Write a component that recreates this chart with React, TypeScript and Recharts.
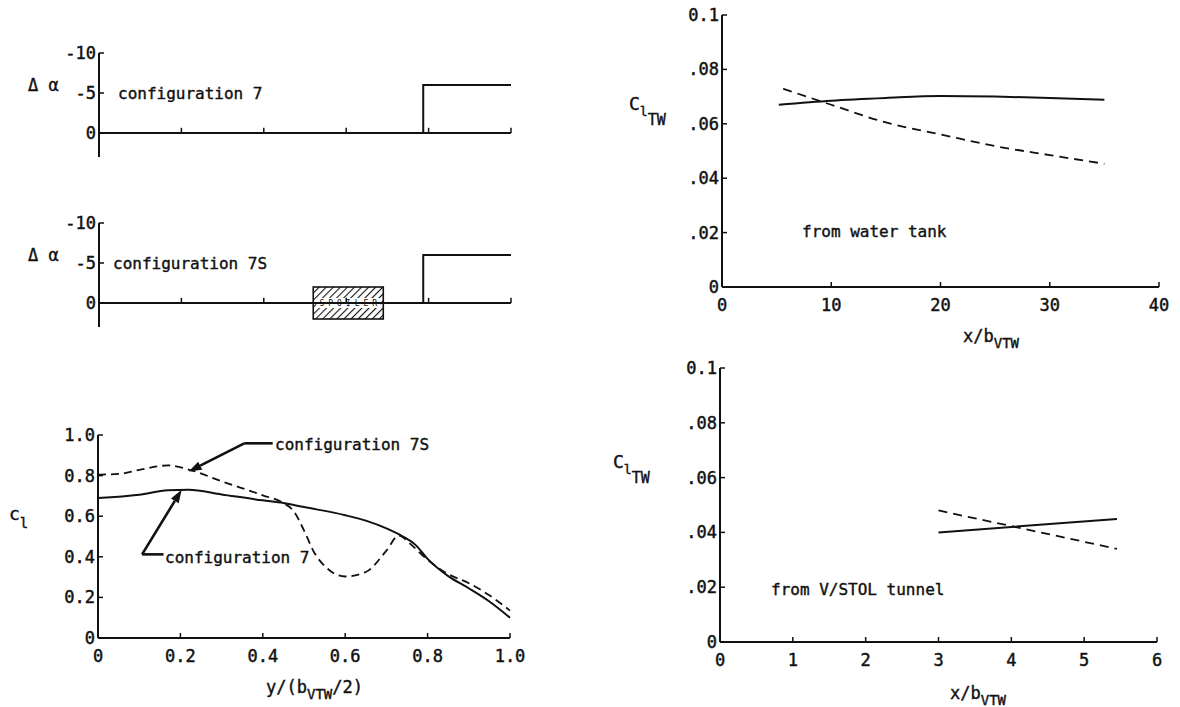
import React from 'react';
import { LineChart, Line, XAxis, YAxis, ReferenceLine, ReferenceArea } from 'recharts';

const FONT = '"DejaVu Sans Mono", "Liberation Mono", monospace';
const INK = '#111';

// ---------- Δα distributions (upper-left panels) ----------
const spanStations = [0, 0.787, 0.787, 1.0];
const dAlphaConfig7 = [0, 0, -6, -6];
const dAlphaConfig7S = [0, 0, -6, -6];
const dAlphaTicks = [-10, -5, 0];
const dAlphaDomain = [-10, 3];
const spanTicks = [0.2, 0.4, 0.6, 0.8, 1.0];
const spoilerSpan = [0.52, 0.69];
const spoilerDAlpha = [-2, 2];

// ---------- section lift c_l (lower-left panel) ----------
const clConfig7X = [0, 0.1, 0.17, 0.22, 0.3, 0.4, 0.45, 0.5, 0.6, 0.65, 0.7, 0.74, 0.77, 0.8, 0.85, 0.9, 0.95, 1.0];
const clConfig7 = [0.69, 0.706, 0.728, 0.73, 0.707, 0.678, 0.665, 0.645, 0.605, 0.578, 0.54, 0.5, 0.46, 0.39, 0.305, 0.245, 0.18, 0.1];
const clConfig7SX = [0, 0.05, 0.1, 0.17, 0.22, 0.3, 0.4, 0.45, 0.475, 0.5, 0.525, 0.55, 0.6, 0.65, 0.7, 0.73, 0.76, 0.8, 0.85, 0.9, 0.95, 1.0];
const clConfig7S = [0.805, 0.808, 0.828, 0.85, 0.83, 0.772, 0.703, 0.665, 0.625, 0.53, 0.42, 0.355, 0.303, 0.325, 0.43, 0.505, 0.46, 0.385, 0.315, 0.27, 0.21, 0.135];
const clTicks = [0, 0.2, 0.4, 0.6, 0.8, 1.0];
const spanAxisTicks = [0, 0.2, 0.4, 0.6, 0.8, 1.0];
const arrow7SX = [0.424, 0.355, 0.22];
const arrow7SY = [0.959, 0.959, 0.82];
const arrow7X = [0.159, 0.107, 0.203];
const arrow7Y = [0.412, 0.412, 0.73];

// ---------- C_l_TW from water tank (upper-right) ----------
const tankSolidX = [5.2, 10, 15, 20, 25, 30, 35];
const tankSolid = [0.067, 0.0685, 0.0695, 0.0702, 0.07, 0.0695, 0.0688];
const tankDashedX = [5.6, 10, 15, 20, 25, 30, 35];
const tankDashed = [0.0729, 0.067, 0.0605, 0.0561, 0.0518, 0.0485, 0.0453];
const tankXTicks = [0, 10, 20, 30, 40];
const cTicks = [0, 0.02, 0.04, 0.06, 0.08, 0.1];

// ---------- C_l_TW from V/STOL tunnel (lower-right) ----------
const tunnelSolidX = [3, 5.45];
const tunnelSolid = [0.04, 0.0449];
const tunnelDashedX = [3, 5.45];
const tunnelDashed = [0.048, 0.034];
const tunnelXTicks = [0, 1, 2, 3, 4, 5, 6];

const pts = (xs: number[], ys: number[]) => xs.map((x, i) => ({ x, y: ys[i] }));

type Rect = { x0: number; y0: number; x1: number; y1: number };
const PAD = { l: 60, t: 10, r: 20, b: 30 };

const P1: Rect = { x0: 99, y0: 53, x1: 511, y1: 157 };
const P2: Rect = { x0: 99, y0: 223, x1: 511, y1: 327 };
const P3: Rect = { x0: 98, y0: 435, x1: 510, y1: 638 };
const P4: Rect = { x0: 722, y0: 15, x1: 1159, y1: 287 };
const P5: Rect = { x0: 720, y0: 368, x1: 1157, y1: 642 };

function frame(p: Rect, showX: boolean) {
  return {
    pos: { position: 'absolute' as const, left: p.x0 - PAD.l, top: p.y0 - PAD.t },
    width: p.x1 - p.x0 + PAD.l + PAD.r,
    height: p.y1 - p.y0 + PAD.t + PAD.b,
    margin: { top: PAD.t, right: PAD.r, left: 0, bottom: showX ? 0 : PAD.b },
  };
}

const txt = { fontFamily: FONT, fontSize: 17, fill: INK, stroke: INK, strokeWidth: 0.45 };

const yTick = (fmt: (v: number) => string) => (props: any) => {
  const { x, y, payload } = props;
  return (
    <g>
      <line x1={x} x2={x + 5} y1={y} y2={y} stroke={INK} strokeWidth={1.5} />
      <text x={x - 3} y={y} textAnchor="end" dominantBaseline="central" style={txt}>
        {fmt(payload.value)}
      </text>
    </g>
  );
};

const xTick = (fmt: (v: number) => string) => (props: any) => {
  const { x, y, payload } = props;
  return (
    <g>
      <line x1={x} x2={x} y1={y} y2={y - 5} stroke={INK} strokeWidth={1.5} />
      <text x={x} y={y + 18} textAnchor="middle" dominantBaseline="central" style={txt}>
        {fmt(payload.value)}
      </text>
    </g>
  );
};

const fmtPlain = (v: number) => String(v);
const fmtOne = (v: number) => (v === 0 ? '0' : v.toFixed(1));
const fmtC = (v: number) => (v === 0 ? '0' : v >= 0.1 ? '0.1' : v.toFixed(2).slice(1));

const arrowShape = (head: boolean) => (p: any) => {
  const { x1, y1, x2, y2 } = p;
  const dx = x2 - x1;
  const dy = y2 - y1;
  const len = Math.hypot(dx, dy) || 1;
  const ux = dx / len;
  const uy = dy / len;
  const L = 13;
  const W = 4.5;
  const bx = x2 - ux * L;
  const by = y2 - uy * L;
  return (
    <g>
      <line x1={x1} y1={y1} x2={head ? bx : x2} y2={head ? by : y2} stroke={INK} strokeWidth={2.6} />
      {head && (
        <polygon
          points={`${x2},${y2} ${bx - uy * W},${by + ux * W} ${bx + uy * W},${by - ux * W}`}
          fill={INK}
        />
      )}
    </g>
  );
};

const spoilerShape = (p: any) => {
  const { x, y, width, height } = p;
  return (
    <g>
      <rect x={x} y={y} width={width} height={height} fill="#fff" />
      <rect x={x} y={y} width={width} height={height} fill="url(#hatch)" stroke={INK} strokeWidth={1.6} />
      <rect x={x + 3} y={y + height / 2 - 5} width={width - 6} height={10} fill="#fff" />
      <text
        x={x + width / 2 + 2}
        y={y + height / 2 + 0.5}
        textAnchor="middle"
        dominantBaseline="central"
        style={{ fontFamily: FONT, fontSize: 8, fill: INK, letterSpacing: 4 }}
      >
        SPOILER
      </text>
    </g>
  );
};

function DeltaAlphaPanel({ p, values, spoiler }: { p: Rect; values: number[]; spoiler: boolean }) {
  const f = frame(p, false);
  return (
    <div style={f.pos}>
      <LineChart width={f.width} height={f.height} margin={f.margin}>
        <XAxis dataKey="x" type="number" domain={[0, 1]} hide />
        <YAxis
          type="number"
          domain={dAlphaDomain}
          reversed
          ticks={dAlphaTicks}
          interval={0}
          width={PAD.l}
          tickSize={0}
          tickMargin={0}
          tickLine={false}
          axisLine={{ stroke: INK, strokeWidth: 2 }}
          tick={yTick(fmtPlain)}
        />
        <ReferenceLine y={0} stroke={INK} strokeWidth={2} />
        {spanTicks.map((t) => (
          <ReferenceLine
            key={t}
            segment={[{ x: t, y: 0 }, { x: t, y: -0.65 }]}
            stroke={INK}
            strokeWidth={1.5}
            ifOverflow="visible"
          />
        ))}
        {spoiler && (
          <ReferenceArea
            x1={spoilerSpan[0]}
            x2={spoilerSpan[1]}
            y1={spoilerDAlpha[0]}
            y2={spoilerDAlpha[1]}
            shape={spoilerShape}
            ifOverflow="visible"
          />
        )}
        <Line
          data={pts(spanStations, values)}
          dataKey="y"
          type="linear"
          stroke={INK}
          strokeWidth={2}
          dot={false}
          isAnimationActive={false}
        />
      </LineChart>
    </div>
  );
}

function ClPanel() {
  const f = frame(P3, true);
  return (
    <div style={f.pos}>
      <LineChart width={f.width} height={f.height} margin={f.margin}>
        <XAxis
          dataKey="x"
          type="number"
          domain={[0, 1]}
          ticks={spanAxisTicks}
          interval={0}
          height={PAD.b}
          tickSize={0}
          tickMargin={0}
          tickLine={false}
          axisLine={{ stroke: INK, strokeWidth: 2 }}
          tick={xTick(fmtOne)}
        />
        <YAxis
          type="number"
          domain={[0, 1]}
          ticks={clTicks}
          interval={0}
          width={PAD.l}
          tickSize={0}
          tickMargin={0}
          tickLine={false}
          axisLine={{ stroke: INK, strokeWidth: 2 }}
          tick={yTick(fmtOne)}
        />
        <Line
          data={pts(clConfig7X, clConfig7)}
          dataKey="y"
          type="monotone"
          stroke={INK}
          strokeWidth={2}
          dot={false}
          isAnimationActive={false}
        />
        <Line
          data={pts(clConfig7SX, clConfig7S)}
          dataKey="y"
          type="monotone"
          stroke={INK}
          strokeWidth={1.8}
          strokeDasharray="8 5"
          dot={false}
          isAnimationActive={false}
        />
        <ReferenceLine
          segment={[{ x: arrow7SX[0], y: arrow7SY[0] }, { x: arrow7SX[1], y: arrow7SY[1] }]}
          ifOverflow="visible"
          shape={arrowShape(false)}
        />
        <ReferenceLine
          segment={[{ x: arrow7SX[1], y: arrow7SY[1] }, { x: arrow7SX[2], y: arrow7SY[2] }]}
          ifOverflow="visible"
          shape={arrowShape(true)}
        />
        <ReferenceLine
          segment={[{ x: arrow7X[0], y: arrow7Y[0] }, { x: arrow7X[1], y: arrow7Y[1] }]}
          ifOverflow="visible"
          shape={arrowShape(false)}
        />
        <ReferenceLine
          segment={[{ x: arrow7X[1], y: arrow7Y[1] }, { x: arrow7X[2], y: arrow7Y[2] }]}
          ifOverflow="visible"
          shape={arrowShape(true)}
        />
      </LineChart>
    </div>
  );
}

function CtwPanel({
  p,
  xMax,
  xTicks,
  solid,
  dashed,
}: {
  p: Rect;
  xMax: number;
  xTicks: number[];
  solid: { x: number; y: number }[];
  dashed: { x: number; y: number }[];
}) {
  const f = frame(p, true);
  return (
    <div style={f.pos}>
      <LineChart width={f.width} height={f.height} margin={f.margin}>
        <XAxis
          dataKey="x"
          type="number"
          domain={[0, xMax]}
          ticks={xTicks}
          interval={0}
          height={PAD.b}
          tickSize={0}
          tickMargin={0}
          tickLine={false}
          axisLine={{ stroke: INK, strokeWidth: 2 }}
          tick={xTick(fmtPlain)}
        />
        <YAxis
          type="number"
          domain={[0, 0.1]}
          ticks={cTicks}
          interval={0}
          width={PAD.l}
          tickSize={0}
          tickMargin={0}
          tickLine={false}
          axisLine={{ stroke: INK, strokeWidth: 2 }}
          tick={yTick(fmtC)}
        />
        <Line data={solid} dataKey="y" type="monotone" stroke={INK} strokeWidth={2} dot={false} isAnimationActive={false} />
        <Line
          data={dashed}
          dataKey="y"
          type="monotone"
          stroke={INK}
          strokeWidth={1.8}
          strokeDasharray="9 6"
          dot={false}
          isAnimationActive={false}
        />
      </LineChart>
    </div>
  );
}

export default function App() {
  const t = { fontFamily: FONT, fill: INK, stroke: INK, strokeWidth: 0.4 };
  return (
    <div style={{ position: 'absolute', left: 0, top: 0, width: 1180, height: 707, background: '#fff', overflow: 'hidden' }}>
      <svg width={0} height={0} style={{ position: 'absolute' }}>
        <defs>
          <pattern id="hatch" width={5} height={5} patternUnits="userSpaceOnUse" patternTransform="rotate(45)">
            <line x1={0} y1={0} x2={0} y2={5} stroke={INK} strokeWidth={2.2} />
          </pattern>
        </defs>
      </svg>

      <DeltaAlphaPanel p={P1} values={dAlphaConfig7} spoiler={false} />
      <DeltaAlphaPanel p={P2} values={dAlphaConfig7S} spoiler={true} />
      <ClPanel />
      <CtwPanel p={P4} xMax={40} xTicks={tankXTicks} solid={pts(tankSolidX, tankSolid)} dashed={pts(tankDashedX, tankDashed)} />
      <CtwPanel p={P5} xMax={6} xTicks={tunnelXTicks} solid={pts(tunnelSolidX, tunnelSolid)} dashed={pts(tunnelDashedX, tunnelDashed)} />

      <svg width={1180} height={707} style={{ position: 'absolute', left: 0, top: 0, pointerEvents: 'none' }}>
        <g>
          <text x={28} y={85} dominantBaseline="central" style={{ ...t, fontSize: 17 }}>Δ  α</text>
          <text x={28} y={255} dominantBaseline="central" style={{ ...t, fontSize: 17 }}>Δ  α</text>
          <text x={118} y={93} dominantBaseline="central" style={{ ...t, fontSize: 16 }}>configuration 7</text>
          <text x={113} y={263} dominantBaseline="central" style={{ ...t, fontSize: 16 }}>configuration 7S</text>
          <text x={275} y={444} dominantBaseline="central" style={{ ...t, fontSize: 16 }}>configuration 7S</text>
          <text x={165} y={557} dominantBaseline="central" style={{ ...t, fontSize: 16 }}>configuration 7</text>

          <text x={9} y={520} style={{ ...t, fontSize: 18 }}>
            c<tspan dy={8} style={{ fontSize: 14 }}>l</tspan>
          </text>
          <text x={266} y={693} style={{ ...t, fontSize: 17 }}>
            y/(b<tspan dy={6} style={{ fontSize: 14 }}>VTW</tspan>
            <tspan dy={-6}>/2)</tspan>
          </text>

          <text x={629} y={110} style={{ ...t, fontSize: 18 }}>
            C<tspan dy={6} style={{ fontSize: 13 }}>l</tspan>
            <tspan dy={9} style={{ fontSize: 15 }}>TW</tspan>
          </text>
          <text x={613} y={468} style={{ ...t, fontSize: 18 }}>
            C<tspan dy={6} style={{ fontSize: 13 }}>l</tspan>
            <tspan dy={9} style={{ fontSize: 15 }}>TW</tspan>
          </text>

          <text x={802} y={231} dominantBaseline="central" style={{ ...t, fontSize: 16 }}>from water tank</text>
          <text x={771} y={589} dominantBaseline="central" style={{ ...t, fontSize: 16 }}>from V/STOL tunnel</text>

          <text x={963} y={342} style={{ ...t, fontSize: 17 }}>
            x/b<tspan dy={6} style={{ fontSize: 14 }}>VTW</tspan>
          </text>
          <text x={950} y={699} style={{ ...t, fontSize: 17 }}>
            x/b<tspan dy={6} style={{ fontSize: 14 }}>VTW</tspan>
          </text>
        </g>
      </svg>
    </div>
  );
}
